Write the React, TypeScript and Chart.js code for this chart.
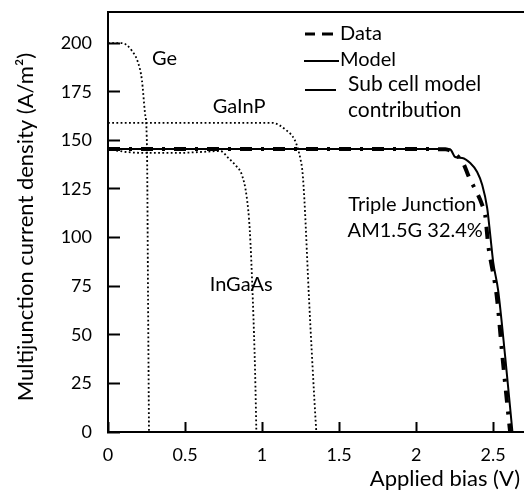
import React, { useEffect, useRef } from "react";
import { Chart, registerables } from "chart.js";

Chart.register(...registerables);

// Tick values
const xTickValues = [0, 0.5, 1, 1.5, 2, 2.5];
const yTickValues = [0, 25, 50, 75, 100, 125, 150, 175, 200];

// Triple junction: measured data
const dataV = [0, 0.5, 1, 1.5, 2, 2.19, 2.234, 2.305, 2.338, 2.429, 2.448, 2.468, 2.494, 2.513, 2.526, 2.558, 2.597, 2.61];
const dataJ = [145.5, 145.5, 145.5, 145.5, 145.5, 145.4, 144, 138.3, 132, 116.7, 111.6, 96, 84, 75.6, 67.9, 40.6, 9.8, 0];

// Triple junction: model
const modelV = [0, 0.5, 1, 1.5, 2, 2.2, 2.222, 2.253, 2.299, 2.351, 2.396, 2.429, 2.461, 2.481, 2.5, 2.532, 2.578, 2.625];
const modelJ = [145.5, 145.5, 145.5, 145.5, 145.5, 145.5, 145.3, 141.4, 140.9, 138.3, 133.7, 127, 115.2, 101.3, 87.4, 73, 38.6, 0];

// Sub cell model contributions
const geV = [0, 0.09, 0.156, 0.195, 0.22, 0.24, 0.253, 0.26, 0.266];
const geJ = [200, 200, 196, 190, 181, 164, 146, 68, 0];

const gainpV = [0, 0.5, 1.065, 1.16, 1.21, 1.235, 1.25, 1.262, 1.275, 1.305, 1.34, 1.352];
const gainpJ = [159, 159, 159, 155, 150.5, 145, 140, 134, 119, 68, 16, 0];

const ingaasV = [0, 0.12, 0.25, 0.45, 0.6, 0.73, 0.78, 0.83, 0.87, 0.9, 0.92, 0.94, 0.955, 0.963];
const ingaasJ = [145.5, 144, 143.5, 143.5, 144, 144.5, 141, 137, 132, 121, 104, 68, 30, 0];

const X_MIN = 0;
const X_MAX = 2.7;
const Y_MIN = 0;
const Y_MAX = 216;

const FONT = "Lato, 'Open Sans', sans-serif";

const toPts = (xs: number[], ys: number[]) => xs.map((v, i) => ({ x: v, y: ys[i] }));

const overlay = {
  id: "overlay",
  afterDraw(chart: any) {
    const ctx: CanvasRenderingContext2D = chart.ctx;
    const a = chart.chartArea;
    const x = chart.scales.x;
    const y = chart.scales.y;
    ctx.save();
    ctx.setLineDash([]);
    ctx.strokeStyle = "#000000";
    ctx.fillStyle = "#000000";
    ctx.lineCap = "butt";

    ctx.textBaseline = "middle";
    ctx.textAlign = "left";
    ctx.font = `20px ${FONT}`;

    // curve labels (placed in data coordinates)
    const label = (t: string, vx: number, vy: number) =>
      ctx.fillText(t, x.getPixelForValue(vx), y.getPixelForValue(vy));
    label("Ge", 0.286, 192);
    label("GaInP", 0.68, 167.6);
    label("InGaAs", 0.66, 75.6);
    label("Triple Junction", 1.56, 117);
    label("AM1.5G 32.4%", 1.555, 103.5);

    // legend
    ctx.lineWidth = 3;
    ctx.beginPath();
    ctx.moveTo(305, 34); ctx.lineTo(315, 34);
    ctx.moveTo(322, 34); ctx.lineTo(333, 34);
    ctx.stroke();
    ctx.fillText("Data", 340, 34);
    ctx.lineWidth = 2;
    ctx.beginPath();
    ctx.moveTo(304, 61); ctx.lineTo(339, 61);
    ctx.stroke();
    ctx.fillText("Model", 340, 60);
    ctx.beginPath();
    ctx.moveTo(305, 90); ctx.lineTo(336, 90);
    ctx.stroke();
    ctx.font = `21px ${FONT}`;
    ctx.fillText("Sub cell model", 348, 84);
    ctx.fillText("contribution", 348, 110);

    // axis titles
    ctx.font = `22px ${FONT}`;
    ctx.textAlign = "right";
    ctx.fillText("Applied bias (V)", 520, 479);

    ctx.save();
    ctx.translate(26, (a.top + a.bottom) / 2 + 5);
    ctx.rotate(-Math.PI / 2);
    ctx.textAlign = "center";
    ctx.fillText("Multijunction current density (A/m\u00B2)", 0, 0);
    ctx.restore();

    ctx.restore();
  },
};

export default function App() {
  const ref = useRef<HTMLCanvasElement | null>(null);

  useEffect(() => {
    if (!ref.current) return;
    const dotted = {
      borderColor: "#000",
      borderWidth: 1.8,
      borderDash: [1.8, 2.4],
      pointRadius: 0,
      fill: false,
      cubicInterpolationMode: "monotone" as const,
    };
    const inwardGrid = {
      display: true,
      drawOnChartArea: false,
      drawTicks: true,
      color: "#000",
      tickColor: "#000",
      tickWidth: 2,
    };
    const chart = new Chart(ref.current, {
      type: "line",
      data: {
        datasets: [
          { label: "Ge", data: toPts(geV, geJ), ...dotted },
          { label: "GaInP", data: toPts(gainpV, gainpJ), ...dotted },
          { label: "InGaAs", data: toPts(ingaasV, ingaasJ), ...dotted },
          {
            label: "Model",
            data: toPts(modelV, modelJ),
            borderColor: "#000",
            borderWidth: 2,
            pointRadius: 0,
            fill: false,
            cubicInterpolationMode: "monotone",
          },
          {
            label: "Data",
            data: toPts(dataV, dataJ),
            borderColor: "#000",
            borderWidth: 4,
            borderDash: [12, 9, 3, 9],
            pointRadius: 0,
            fill: false,
            cubicInterpolationMode: "monotone",
          },
        ],
      },
      options: {
        animation: false,
        responsive: false,
        devicePixelRatio: 1,
        layout: { padding: { top: 12, right: 0, left: 0, bottom: 0 } },
        plugins: { legend: { display: false }, tooltip: { enabled: false } },
        scales: {
          x: {
            type: "linear",
            position: "bottom",
            min: X_MIN,
            max: X_MAX,
            afterBuildTicks: (s: any) => {
              s.ticks = xTickValues.map((v) => ({ value: v }));
              s.min = X_MIN;
              s.max = X_MAX;
            },
            afterFit: (s: any) => {
              s.height = 61;
              s.paddingLeft = 0;
              s.paddingRight = 0;
            },
            grid: { ...inwardGrid, tickLength: -10 },
            border: { display: true, color: "#000", width: 2 },
            ticks: {
              autoSkip: false,
              maxRotation: 0,
              padding: 22,
              color: "#000",
              font: { family: FONT, size: 18 },
              callback: (v: any) => String(v),
            },
          },
          xTop: {
            type: "linear",
            position: "top",
            min: X_MIN,
            max: X_MAX,
            afterFit: (s: any) => {
              s.height = 0;
              s.paddingLeft = 0;
              s.paddingRight = 0;
            },
            grid: { display: false, drawTicks: false },
            border: { display: true, color: "#000", width: 2 },
            ticks: { display: false },
          },
          y: {
            type: "linear",
            position: "left",
            min: Y_MIN,
            max: Y_MAX,
            afterBuildTicks: (s: any) => {
              s.ticks = yTickValues.map((v) => ({ value: v }));
              s.min = Y_MIN;
              s.max = Y_MAX;
            },
            afterFit: (s: any) => {
              s.width = 108;
              s.paddingTop = 0;
              s.paddingBottom = 0;
            },
            grid: { ...inwardGrid, tickLength: -12 },
            border: { display: true, color: "#000", width: 2 },
            ticks: {
              autoSkip: false,
              padding: 28,
              color: "#000",
              font: { family: FONT, size: 18 },
              callback: (v: any) => String(v),
            },
          },
        },
      },
      plugins: [overlay],
    });
    return () => chart.destroy();
  }, []);

  return (
    <div style={{ position: "fixed", left: 0, top: 0, width: 524, height: 493, background: "#fff" }}>
      <canvas ref={ref} width={524} height={493} style={{ display: "block", width: 524, height: 493 }} />
    </div>
  );
}
